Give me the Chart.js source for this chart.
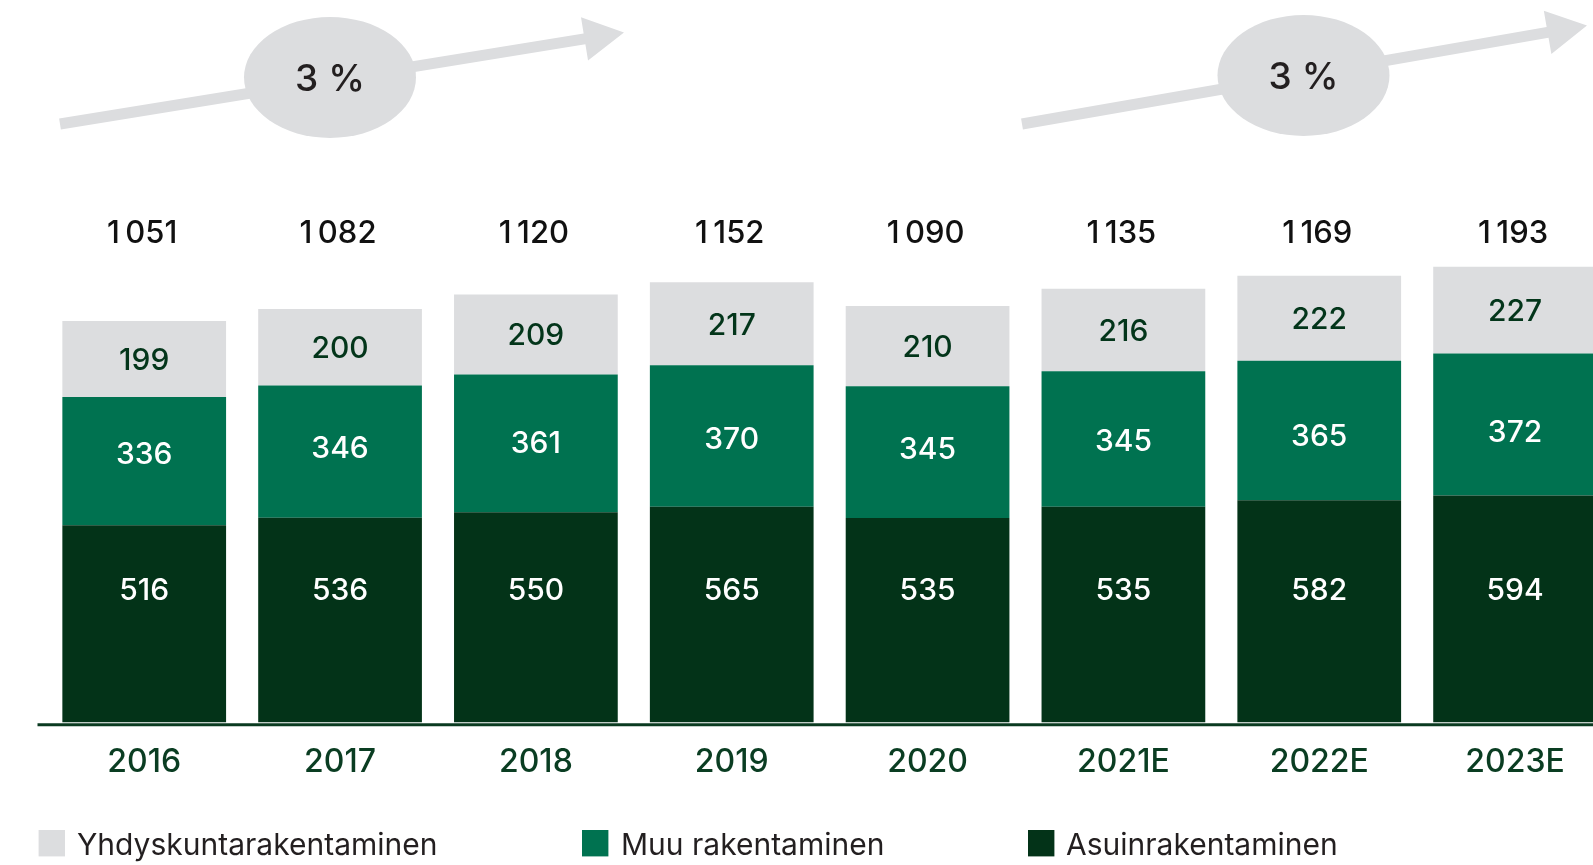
<!DOCTYPE html>
<html>
<head>
<meta charset="utf-8">
<script src="https://cdn.jsdelivr.net/npm/chart.js@4.4.1/dist/chart.umd.min.js"></script>
<style>
  html, body { margin: 0; padding: 0; background: #fff; overflow: hidden; }
  #wrap { position: relative; width: 1593px; height: 865px; overflow: hidden; }
  #kaavio { position: absolute; left: 0; top: 0; }
</style>
</head>
<body>
<div id="wrap"><canvas id="kaavio" width="1613" height="865"></canvas></div>
<script>
// vuodet ja arvot (mrd. e)
const vuodet = ['2016', '2017', '2018', '2019', '2020', '2021E', '2022E', '2023E'];
const asuin = [516, 536, 550, 565, 535, 565, 582, 594];
const muu = [336, 346, 361, 370, 345, 354, 365, 372];
const yhdys = [199, 200, 209, 217, 210, 216, 222, 227];
// numerot sellaisina kuin ne on painettu kuvaan (2021E eroaa pylvään korkeudesta)
const asuinTeksti = ['516', '536', '550', '565', '535', '535', '582', '594'];
const muuTeksti = ['336', '346', '361', '370', '345', '345', '365', '372'];
const yhdysTeksti = ['199', '200', '209', '217', '210', '216', '222', '227'];
const yhteensa = [1051, 1082, 1120, 1152, 1090, 1135, 1169, 1193];
const kasvu = ['3 %', '3 %'];

const FONTTI = 'Inter, "Noto Sans", sans-serif';

function muotoile(n) {
    return String(n).replace(/\B(?=(\d{3})+(?!\d))/g, '\u2009');
}

// tekstin pystykeskitys numeroille
function keskitettyTeksti(ctx, teksti, x, yKeski, koko) {
    ctx.textBaseline = 'alphabetic';
    ctx.fillText(teksti, x, yKeski + koko * 0.364);
}

function nuoli(ctx, x1, y1, x2, y2) {
    const kulma = Math.atan2(y2 - y1, x2 - x1);
    const pituus = Math.hypot(x2 - x1, y2 - y1);
    const w = 5.5, L = 40, h = 22;
    ctx.save();
    ctx.translate(x1, y1);
    ctx.rotate(kulma);
    ctx.beginPath();
    ctx.moveTo(0, -w);
    ctx.lineTo(pituus - L, -w);
    ctx.lineTo(pituus - L, -h);
    ctx.lineTo(pituus, 0);
    ctx.lineTo(pituus - L, h);
    ctx.lineTo(pituus - L, w);
    ctx.lineTo(0, w);
    ctx.closePath();
    ctx.fill();
    ctx.restore();
}

const kasvuPlugin = {
    id: 'kasvu',
    afterDraw(chart) {
        const ctx = chart.ctx;
        const nuolet = [
            { x1: 60, y1: 124, x2: 624, y2: 32.5, cx: 330, cy: 77.5 },
            { x1: 1022, y1: 124, x2: 1587, y2: 25.5, cx: 1303.5, cy: 75.5 }
        ];
        ctx.save();
        nuolet.forEach((n, i) => {
            ctx.fillStyle = '#dcdddf';
            nuoli(ctx, n.x1, n.y1, n.x2, n.y2);
            ctx.beginPath();
            ctx.ellipse(n.cx, n.cy, 86, 60.5, 0, 0, Math.PI * 2);
            ctx.fill();
            ctx.fillStyle = '#231f20';
            ctx.font = '500 37px ' + FONTTI;
            ctx.textAlign = 'center';
            keskitettyTeksti(ctx, kasvu[i], n.cx, n.cy, 37);
        });
        ctx.restore();
    }
};

const arvoPlugin = {
    id: 'arvot',
    afterDatasetsDraw(chart) {
        const ctx = chart.ctx;
        const y = chart.scales.y;
        ctx.save();

        // x-akselin viiva
        const y0 = y.getPixelForValue(0);
        ctx.strokeStyle = '#0a3a20';
        ctx.lineWidth = 3;
        ctx.beginPath();
        ctx.moveTo(37.5, y0 + 2.3);
        ctx.lineTo(chart.width, y0 + 2.3);
        ctx.stroke();

        ctx.textAlign = 'center';
        chart.data.datasets.forEach((ds, di) => {
            const meta = chart.getDatasetMeta(di);
            ctx.fillStyle = ds.tekstiVari;
            ctx.font = '500 30px ' + FONTTI;
            meta.data.forEach((el, i) => {
                const p = el.getProps(['x', 'y', 'base'], true);
                let yk = (p.y + p.base) / 2;
                if (di === 0) yk = 589;
                if (di === 1) yk = 0.6 * yk + 0.4 * 441;
                keskitettyTeksti(ctx, ds.teksti[i], p.x, yk, 30);
            });
        });

        // summat pylväiden yläpuolella
        const ylin = chart.getDatasetMeta(0);
        ctx.fillStyle = '#111111';
        ctx.font = '500 31px ' + FONTTI;
        ylin.data.forEach((el, i) => {
            keskitettyTeksti(ctx, muotoile(yhteensa[i]), el.x - 2, 232, 31);
        });

        // selite
        const selite = [
            { ds: 2, bx: 38.6, tx: 77 },
            { ds: 1, bx: 582, tx: 621 },
            { ds: 0, bx: 1028, tx: 1066 }
        ];
        ctx.textAlign = 'left';
        ctx.font = '400 30px ' + FONTTI;
        selite.forEach(s => {
            const ds = chart.data.datasets[s.ds];
            ctx.fillStyle = ds.backgroundColor;
            ctx.fillRect(s.bx, 830, 26.4, 26.4);
            ctx.fillStyle = '#231f20';
            ctx.textBaseline = 'alphabetic';
            ctx.fillText(ds.label, s.tx, 855);
        });
        ctx.restore();
    }
};

const ctx = document.getElementById('kaavio').getContext('2d');
new Chart(ctx, {
    type: 'bar',
    data: {
        labels: vuodet,
        datasets: [
            { label: 'Asuinrakentaminen', data: asuin, backgroundColor: '#033318', teksti: asuinTeksti, tekstiVari: '#ffffff' },
            { label: 'Muu rakentaminen', data: muu, backgroundColor: '#007250', teksti: muuTeksti, tekstiVari: '#ffffff' },
            { label: 'Yhdyskuntarakentaminen', data: yhdys, backgroundColor: '#dcdddf', teksti: yhdysTeksti, tekstiVari: '#03351a' }
        ]
    },
    options: {
        responsive: false,
        animation: false,
        barPercentage: 0.836,
        categoryPercentage: 1,
        layout: { padding: { left: 46.3, right: 0, top: 0, bottom: 0 } },
        plugins: {
            legend: { display: false },
            tooltip: { enabled: false }
        },
        scales: {
            x: {
                stacked: true,
                grid: { display: false, drawTicks: false },
                border: { display: false },
                ticks: {
                    color: '#0a3d22',
                    padding: 21,
                    font: { family: FONTTI, size: 32, weight: '500' }
                },
                afterFit: (s) => { s.height = 142.5; }
            },
            y: {
                stacked: true,
                display: false,
                min: 0,
                max: 1891
            }
        }
    },
    plugins: [kasvuPlugin, arvoPlugin]
});
</script>
</body>
</html>
